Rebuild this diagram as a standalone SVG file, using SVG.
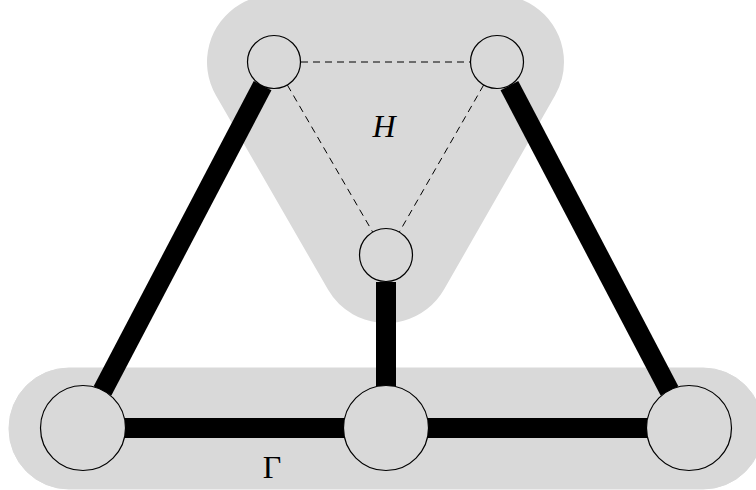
<svg xmlns="http://www.w3.org/2000/svg" width="756" height="490" viewBox="0 0 756 490">
<style>
.blob{fill:#d9d9d9;stroke:#d9d9d9}
.thick{stroke:#000;stroke-width:20;fill:none;stroke-linecap:butt}
.dash{stroke:#000;stroke-width:1;fill:none;stroke-dasharray:7 5}
.node{fill:#d9d9d9;stroke:#000;stroke-width:1.2}
.lbl{font-family:"Liberation Serif","DejaVu Serif",serif;font-size:32px;fill:#000;text-anchor:middle}
</style>
<rect width="756" height="490" fill="#fff"/>
<g id="H-region">
<polygon class="blob" points="274,62 497,62 386,256" stroke-width="134" stroke-linejoin="round"/>
</g>
<g id="Gamma-region">
<rect class="blob" x="9" y="368" width="754" height="121" rx="60" ry="60" stroke="none"/>
</g>
<g id="connectors">
<line class="thick" x1="262.6" y1="85.7" x2="102.5" y2="390.8"/>
<line class="thick" x1="509.4" y1="85.7" x2="669.5" y2="390.8"/>
<line class="thick" x1="386" y1="282" x2="386" y2="386"/>
<line class="thick" x1="125" y1="428" x2="344" y2="428"/>
<line class="thick" x1="428" y1="428" x2="647" y2="428"/>
<line class="dash" x1="301" y1="62" x2="470" y2="62"/>
<line class="dash" x1="287.4" y1="85.1" x2="372.6" y2="231.9"/>
<line class="dash" x1="483.6" y1="85.1" x2="399.4" y2="231.9"/>
</g>
<g id="h1"><circle class="node" cx="274" cy="62" r="26.5"/></g>
<g id="h2"><circle class="node" cx="497" cy="62" r="26.5"/></g>
<g id="h3"><circle class="node" cx="386" cy="255" r="26.5"/></g>
<g id="g1"><circle class="node" cx="83" cy="428" r="42.5"/></g>
<g id="g2"><circle class="node" cx="386" cy="428" r="42.5"/></g>
<g id="g3"><circle class="node" cx="689" cy="428" r="42.5"/></g>
<text class="lbl" x="384" y="137" font-style="italic">H</text>
<text class="lbl" x="272" y="478">Γ</text>
</svg>
